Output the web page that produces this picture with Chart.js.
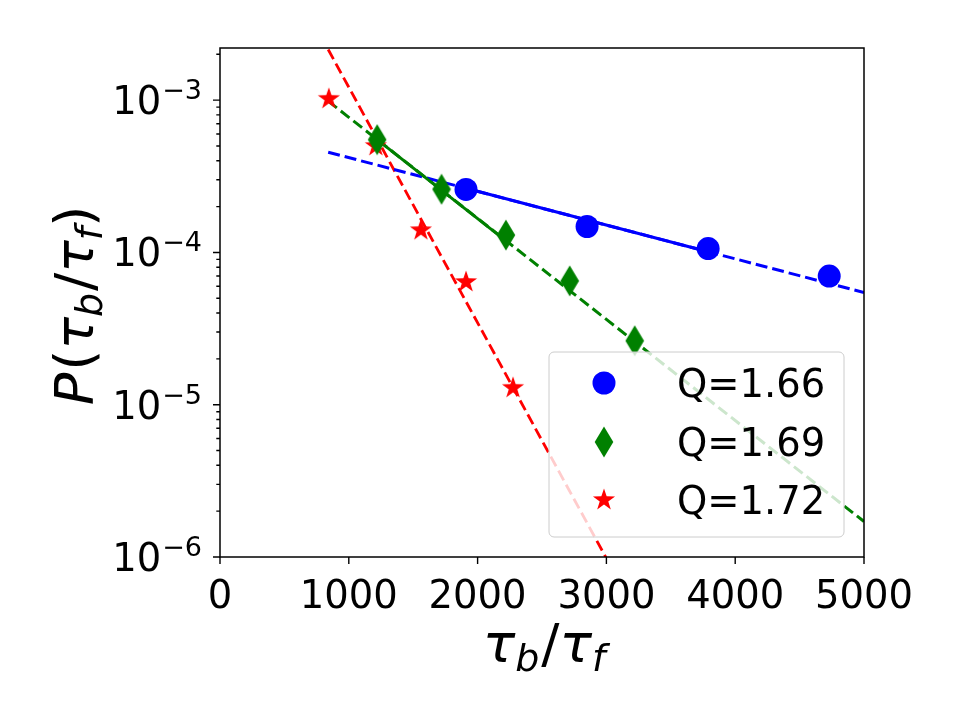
<!DOCTYPE html>
<html>
<head>
<meta charset="utf-8">
<script src="https://cdn.jsdelivr.net/npm/chart.js@4.4.0/dist/chart.umd.min.js"></script>
<style>
  html, body { margin: 0; padding: 0; background: #fff; }
  #wrap { width: 960px; height: 720px; }
</style>
</head>
<body>
<div id="wrap"><canvas id="my_chart" width="960" height="720"></canvas></div>
<script>
// measured points
const blueX = [1910, 2850, 3790, 4730];
const blueY = [2.59e-4, 1.48e-4, 1.06e-4, 7.0e-5];
const greenX = [1220, 1720, 2220, 2715, 3220];
const greenY = [5.5e-4, 2.6e-4, 1.3e-4, 6.5e-5, 2.63e-5];
const redX = [845, 1210, 1560, 1910, 2275];
const redY = [1.02e-3, 5.0e-4, 1.4e-4, 6.4e-5, 1.29e-5];

// fitted lines (end points)
const blueFitX = [840, 5000];
const blueFitY = [4.55e-4, 5.45e-5];
const blueSolidX = [1910, 3790];
const blueSolidY = [2.64e-4, 1.01e-4];
const greenFitX = [840, 5000];
const greenFitY = [9.85e-4, 1.71e-6];
const greenSolidX = [1220, 2220];
const greenSolidY = [5.5e-4, 1.19e-4];
const redFitX = [840, 3000];
const redFitY = [2.15e-3, 9.8e-7];

const labels = ['Q=1.66', 'Q=1.69', 'Q=1.72'];
const xTicks = [0, 1000, 2000, 3000, 4000, 5000];
const yDecades = [-6, -5, -4, -3];

const BLUE = '#0000ff', GREEN = '#008000', RED = '#ff0000';
const FONT = '"DejaVu Sans"';

function pts(xs, ys) {
    return xs.map(function (x, i) { return {x: x, y: ys[i]}; });
}

function makeDiamond(color) {
    var c = document.createElement('canvas');
    c.width = 20; c.height = 32;
    var g = c.getContext('2d');
    g.fillStyle = color;
    g.beginPath();
    g.moveTo(10, 0.5); g.lineTo(19.3, 16); g.lineTo(10, 31.5); g.lineTo(0.7, 16);
    g.closePath();
    g.fill();
    return c;
}

function makeStar(color) {
    var c = document.createElement('canvas');
    c.width = 26; c.height = 26;
    var g = c.getContext('2d');
    var R = 11.6, r = 4.5;
    g.fillStyle = color;
    g.beginPath();
    for (var i = 0; i < 10; i++) {
        var a = -Math.PI / 2 + i * Math.PI / 5;
        var rr = (i % 2 === 0) ? R : r;
        var px = 13 + rr * Math.cos(a), py = 13 + rr * Math.sin(a);
        if (i === 0) g.moveTo(px, py); else g.lineTo(px, py);
    }
    g.closePath();
    g.fill();
    return c;
}

var diamond = makeDiamond(GREEN);
var star = makeStar(RED);

function drawMath(ctx, parts, x, y) {
    var w = 0;
    parts.forEach(function (p) {
        ctx.font = (p.it ? 'italic ' : '') + p.s + 'px ' + FONT;
        p.w = ctx.measureText(p.t).width;
        w += p.w + (p.gap || 0);
    });
    var cx = x - w / 2;
    parts.forEach(function (p) {
        ctx.font = (p.it ? 'italic ' : '') + p.s + 'px ' + FONT;
        ctx.fillText(p.t, cx, y + (p.dy || 0));
        cx += p.w + (p.gap || 0);
    });
}

const decorations = {
    id: 'decorations',
    afterDatasetsDraw(chart) {
        const ctx = chart.ctx, a = chart.chartArea;
        const xs = chart.scales.x, ys = chart.scales.y;
        ctx.save();

        // legend box
        var bw = 295, bh = 185;
        var bx = a.right - 20 - bw, by = a.bottom - 20 - bh;
        ctx.beginPath();
        ctx.roundRect(bx, by, bw, bh, 5);
        ctx.fillStyle = 'rgba(255,255,255,0.8)';
        ctx.fill();
        ctx.strokeStyle = '#cccccc';
        ctx.lineWidth = 1;
        ctx.stroke();

        var mx = bx + 55;
        var rows = [by + 31, by + 90, by + 148];
        ctx.fillStyle = BLUE;
        ctx.beginPath();
        ctx.arc(mx, rows[0], 11.5, 0, Math.PI * 2);
        ctx.fill();
        ctx.drawImage(diamond, mx - diamond.width / 2, rows[1] - diamond.height / 2);
        ctx.drawImage(star, mx - star.width / 2, rows[2] - star.height / 2);
        ctx.fillStyle = '#000';
        ctx.font = '38.5px ' + FONT;
        ctx.textAlign = 'left';
        ctx.textBaseline = 'alphabetic';
        labels.forEach(function (t, i) {
            ctx.fillText(t, bx + 128, rows[i] + 14);
        });

        // frame
        ctx.strokeStyle = '#000';
        ctx.lineWidth = 1.5;
        ctx.strokeRect(a.left, a.top, a.right - a.left, a.bottom - a.top);

        // x ticks
        ctx.lineWidth = 1.4;
        ctx.beginPath();
        xTicks.forEach(function (v) {
            var px = xs.getPixelForValue(v);
            ctx.moveTo(px, a.bottom); ctx.lineTo(px, a.bottom + 7);
        });
        // y ticks, major and minor
        yDecades.forEach(function (d) {
            for (var k = 1; k <= 9; k++) {
                var v = k * Math.pow(10, d);
                if (v > ys.max * 1.0001) continue;
                var py = ys.getPixelForValue(v);
                var len = (k === 1) ? 7 : 3.7;
                ctx.moveTo(a.left, py); ctx.lineTo(a.left - len, py);
            }
        });
        ctx.stroke();

        // y tick labels 10^n
        ctx.fillStyle = '#000';
        ctx.textAlign = 'left';
        yDecades.forEach(function (d) {
            var py = ys.getPixelForValue(Math.pow(10, d));
            var sup = '\u2212' + Math.abs(d);
            ctx.font = '27px ' + FONT;
            var wSup = ctx.measureText(sup).width;
            ctx.font = '38.5px ' + FONT;
            var wMain = ctx.measureText('10').width;
            var right = a.left - 18;
            ctx.fillText('10', right - wSup - wMain - 1, py + 14);
            ctx.font = '27px ' + FONT;
            ctx.fillText(sup, right - wSup, py - 1);
        });

        // axis titles
        var title = [
            {t: '\u03c4', it: true, s: 54},
            {t: 'b', it: true, s: 38, dy: 9, gap: 2},
            {t: '/', s: 54},
            {t: '\u03c4', it: true, s: 54},
            {t: 'f', it: true, s: 38, dy: 9}
        ];
        drawMath(ctx, title, (a.left + a.right) / 2 + 2, 662);

        ctx.translate(93, (a.top + a.bottom) / 2 + 3);
        ctx.rotate(-Math.PI / 2);
        var ytitle = [
            {t: 'P', it: true, s: 54, gap: 2},
            {t: '(', s: 54}
        ].concat(title.map(function (p) { return Object.assign({}, p); })).concat([{t: ')', s: 54}]);
        drawMath(ctx, ytitle, 0, 0);

        ctx.restore();
    }
};

var ctx = document.getElementById('my_chart').getContext('2d');
var chart = new Chart(ctx, {
    type: 'scatter',
    data: {
        datasets: [
            {data: pts(blueX, blueY), pointStyle: 'circle', pointRadius: 11.5,
             backgroundColor: BLUE, borderColor: BLUE, borderWidth: 0},
            {data: pts(greenX, greenY), pointStyle: diamond, pointRadius: 11,
             backgroundColor: GREEN, borderColor: GREEN},
            {data: pts(redX, redY), pointStyle: star, pointRadius: 11,
             backgroundColor: RED, borderColor: RED},
            {data: pts(blueSolidX, blueSolidY), showLine: true, pointRadius: 0,
             borderColor: BLUE, borderWidth: 3},
            {data: pts(greenSolidX, greenSolidY), showLine: true, pointRadius: 0,
             borderColor: GREEN, borderWidth: 3},
            {data: pts(blueFitX, blueFitY), showLine: true, pointRadius: 0,
             borderColor: BLUE, borderWidth: 3, borderDash: [12, 5]},
            {data: pts(greenFitX, greenFitY), showLine: true, pointRadius: 0,
             borderColor: GREEN, borderWidth: 3, borderDash: [11, 5]},
            {data: pts(redFitX, redFitY), showLine: true, pointRadius: 0,
             borderColor: RED, borderWidth: 2.8, borderDash: [11, 5]}
        ]
    },
    options: {
        responsive: false,
        animation: false,
        events: [],
        layout: {padding: {left: 0, top: 48, right: 96, bottom: 0}},
        plugins: {legend: {display: false}, tooltip: {enabled: false}},
        scales: {
            x: {
                type: 'linear', min: 0, max: 5000,
                grid: {display: false}, border: {display: false},
                ticks: {stepSize: 1000, autoSkip: false, maxRotation: 0, padding: 10,
                        color: '#000', font: {family: 'DejaVu Sans', size: 38.5},
                        callback: function (v) { return String(v); }},
                afterFit: function (s) { s.height = 163; }
            },
            y: {
                type: 'logarithmic', min: 1e-6, max: 2.2e-3,
                grid: {display: false}, border: {display: false},
                ticks: {display: false},
                afterFit: function (s) { s.width = 220; }
            }
        }
    },
    plugins: [decorations]
});
</script>
</body>
</html>
